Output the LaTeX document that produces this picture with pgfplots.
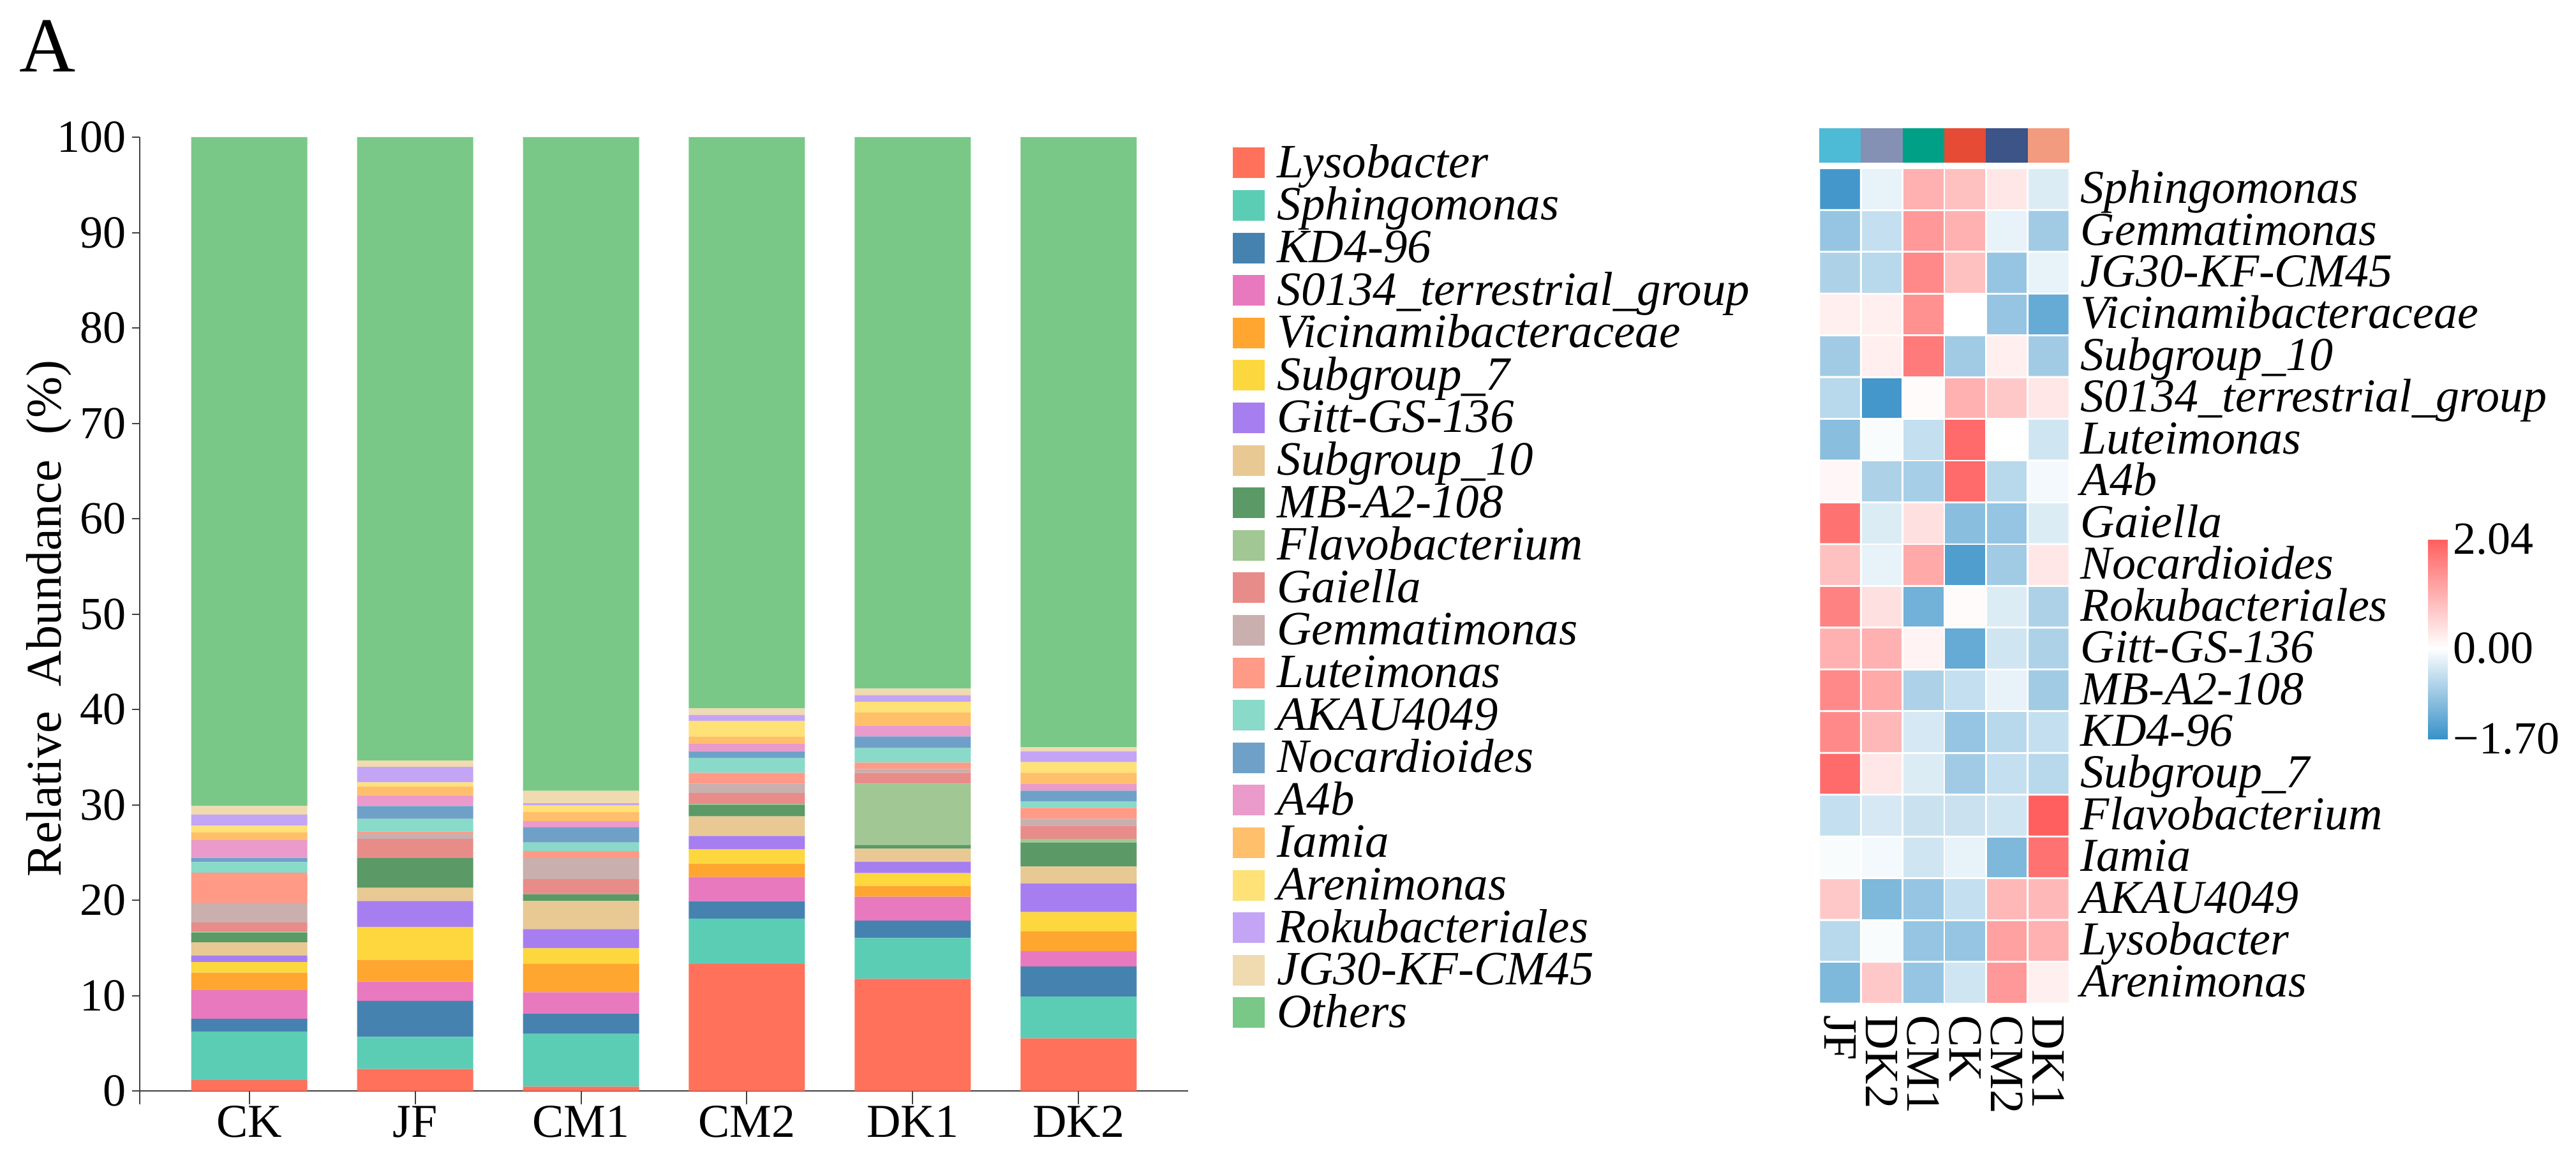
\documentclass[border=0pt]{standalone}
\usepackage{fontspec}
\setmainfont{Liberation Serif}
\usepackage{pgfplots}
\usepackage{pgfplotstable}
\pgfplotsset{compat=1.18}

% genus colours (bottom of the stack first)
\definecolor{cLys}{HTML}{FF715B}
\definecolor{cSph}{HTML}{5BCDB5}
\definecolor{cKD}{HTML}{4682B0}
\definecolor{cSterr}{HTML}{E879BE}
\definecolor{cVic}{HTML}{FFA630}
\definecolor{cSubVII}{HTML}{FDD73E}
\definecolor{cGitt}{HTML}{A77EF0}
\definecolor{cSubX}{HTML}{E8C993}
\definecolor{cMB}{HTML}{5B9966}
\definecolor{cFlavo}{HTML}{A1C794}
\definecolor{cGai}{HTML}{E88C8A}
\definecolor{cGem}{HTML}{C9AFAE}
\definecolor{cLut}{HTML}{FF9A86}
\definecolor{cAKAU}{HTML}{89DAC8}
\definecolor{cNoc}{HTML}{6FA1C8}
\definecolor{cAfb}{HTML}{EA9ACB}
\definecolor{cIam}{HTML}{FFBF6B}
\definecolor{cAre}{HTML}{FEE177}
\definecolor{cRok}{HTML}{C4A5F5}
\definecolor{cJG}{HTML}{F0DAB0}
\definecolor{cOth}{HTML}{79C887}
% group colours of the heatmap annotation
\definecolor{gJF}{HTML}{4DBBD5}
\definecolor{gDKb}{HTML}{8491B4}
\definecolor{gCMa}{HTML}{00A087}
\definecolor{gCK}{HTML}{E64B35}
\definecolor{gCMb}{HTML}{3C5488}
\definecolor{gDKa}{HTML}{F39B7F}

% relative abundance (%), groups CK JF CM1 CM2 DK1 DK2 at x = 0..5
\pgfplotstableread{
x Lys Sph KD Sterr Vic SubVII Gitt SubX MB Flavo Gai Gem Lut AKAU Noc Afb Iam Are Rok JG Oth
0 1.14 5.09 1.35 2.98 1.84 1.12 0.67 1.39 1.01 0.13 0.93 2.08 3.16 1.10 0.45 1.86 0.80 0.70 1.17 0.90 70.13
1 2.31 3.36 3.77 2.02 2.28 3.46 2.71 1.39 3.11 0.00 2.03 0.60 0.16 1.33 1.34 1.13 0.93 0.42 1.62 0.68 65.35
2 0.45 5.54 2.10 2.25 2.98 1.64 2.01 2.94 0.72 0.00 1.57 2.21 0.75 0.89 1.58 0.66 0.93 0.71 0.24 1.29 68.54
3 13.33 4.75 1.82 2.54 1.37 1.54 1.38 2.06 1.22 0.09 1.14 0.98 1.13 1.57 0.69 0.83 0.69 1.67 0.63 0.69 59.88
4 11.75 4.29 1.82 2.50 1.14 1.34 1.19 1.37 0.40 6.42 1.13 0.40 0.68 1.52 1.22 1.13 1.38 1.12 0.69 0.69 57.82
5 5.52 4.38 3.15 1.62 2.05 2.04 2.99 1.78 2.51 0.39 1.38 0.73 1.13 0.69 1.12 0.69 1.18 1.13 1.13 0.44 63.95
}\abund

% z-scores: x = JF DK2 CM1 CK CM2 DK1, y = row from the top
\pgfplotstableread{
x y c
0 0 -1.60
1 0 -0.20
2 0 1.00
3 0 0.80
4 0 0.30
5 0 -0.30
0 1 -0.90
1 1 -0.50
2 1 1.30
3 1 1.00
4 1 -0.20
5 1 -0.80
0 2 -0.70
1 2 -0.60
2 2 1.50
3 2 0.80
4 2 -0.90
5 2 -0.20
0 3 0.20
1 3 0.20
2 3 1.40
3 3 0.00
4 3 -0.90
5 3 -1.30
0 4 -0.80
1 4 0.20
2 4 1.70
3 4 -0.80
4 4 0.20
5 4 -0.80
0 5 -0.60
1 5 -1.60
2 5 0.05
3 5 1.00
4 5 0.70
5 5 0.30
0 6 -1.00
1 6 -0.05
2 6 -0.50
3 6 1.90
4 6 0.00
5 6 -0.40
0 7 0.10
1 7 -0.70
2 7 -0.75
3 7 1.90
4 7 -0.60
5 7 -0.10
0 8 1.80
1 8 -0.30
2 8 0.40
3 8 -1.00
4 8 -0.90
5 8 -0.30
0 9 0.80
1 9 -0.20
2 9 1.10
3 9 -1.50
4 9 -0.80
5 9 0.30
0 10 1.60
1 10 0.40
2 10 -1.20
3 10 0.05
4 10 -0.30
5 10 -0.70
0 11 1.00
1 11 1.00
2 11 0.15
3 11 -1.30
4 11 -0.40
5 11 -0.70
0 12 1.50
1 12 1.10
2 12 -0.70
3 12 -0.50
4 12 -0.20
5 12 -0.80
0 13 1.50
1 13 0.90
2 13 -0.35
3 13 -0.90
4 13 -0.60
5 13 -0.50
0 14 1.90
1 14 0.30
2 14 -0.30
3 14 -0.80
4 14 -0.50
5 14 -0.60
0 15 -0.50
1 15 -0.35
2 15 -0.45
3 15 -0.45
4 15 -0.40
5 15 2.04
0 16 -0.05
1 16 -0.10
2 16 -0.40
3 16 -0.20
4 16 -1.10
5 16 1.80
0 17 0.70
1 17 -1.10
2 17 -0.90
3 17 -0.50
4 17 0.90
5 17 0.90
0 18 -0.60
1 18 -0.05
2 18 -0.90
3 18 -0.90
4 18 1.20
5 18 1.00
0 19 -1.10
1 19 0.70
2 19 -0.90
3 19 -0.40
4 19 1.30
5 19 0.20
}\zscore

\newcommand{\fs}[1]{\fontsize{#1}{#1}\selectfont}

\begin{document}
\begin{tikzpicture}
\useasboundingbox (0,0) rectangle (1009.25pt,455.5pt);

\node[anchor=base west, inner sep=0pt, font=\fs{30.5pt}] at (7.5pt,427.25pt) {A};

% ---- stacked bars ----
\begin{axis}[
    at={(54.75pt,22.75pt)}, anchor=south west,
    scale only axis, width=410.75pt, height=379pt,
    ybar stacked, bar width=0.7,
    xmin=-0.66, xmax=5.66, ymin=-1.4, ymax=100,
    axis x line=middle, axis y line=left,
    axis line style={-, black!75, line width=0.7pt},
    hide obscured x ticks=false, hide obscured y ticks=false,
    xtick={0,...,5}, xticklabels={CK,JF,CM1,CM2,DK1,DK2},
    ytick={0,10,...,100},
    tick align=outside, tick style={black!75, line width=0.5pt},
    x tick style={/pgfplots/major tick length=5.25pt},
    y tick style={/pgfplots/major tick length=3pt},
    /pgf/number format/assume math mode=true,
    xticklabel style={font=\fs{18.5pt}, inner sep=0pt, yshift=-1.5pt},
    yticklabel style={font=\fs{18pt}, inner sep=1pt},
    ylabel={Relative\ \ Abundance\ \ (\%)},
    every axis y label/.style={at={(axis description cs:-0.0864,0.502)}, rotate=90, anchor=center, font=\fs{19.5pt}},
    legend cell align=left,
    legend image code/.code={\fill[#1] (0pt,-6.3pt) rectangle (12.5pt,5.7pt);},
    legend style={at={(axis description cs:1.042,0.9967)}, anchor=north west,
        draw=none, fill=none, inner sep=0pt, row sep=0pt,
        font=\itshape\fs{18.75pt},
        nodes={inner sep=0pt, text height=14.35pt, text depth=2.3pt},
        /tikz/every odd column/.append style={column sep=5pt}},
    every axis plot/.append style={draw=none},
]
\addplot[fill=cLys] table[x=x,y=Lys]{\abund};
\addplot[fill=cSph] table[x=x,y=Sph]{\abund};
\addplot[fill=cKD] table[x=x,y=KD]{\abund};
\addplot[fill=cSterr] table[x=x,y=Sterr]{\abund};
\addplot[fill=cVic] table[x=x,y=Vic]{\abund};
\addplot[fill=cSubVII] table[x=x,y=SubVII]{\abund};
\addplot[fill=cGitt] table[x=x,y=Gitt]{\abund};
\addplot[fill=cSubX] table[x=x,y=SubX]{\abund};
\addplot[fill=cMB] table[x=x,y=MB]{\abund};
\addplot[fill=cFlavo] table[x=x,y=Flavo]{\abund};
\addplot[fill=cGai] table[x=x,y=Gai]{\abund};
\addplot[fill=cGem] table[x=x,y=Gem]{\abund};
\addplot[fill=cLut] table[x=x,y=Lut]{\abund};
\addplot[fill=cAKAU] table[x=x,y=AKAU]{\abund};
\addplot[fill=cNoc] table[x=x,y=Noc]{\abund};
\addplot[fill=cAfb] table[x=x,y=Afb]{\abund};
\addplot[fill=cIam] table[x=x,y=Iam]{\abund};
\addplot[fill=cAre] table[x=x,y=Are]{\abund};
\addplot[fill=cRok] table[x=x,y=Rok]{\abund};
\addplot[fill=cJG] table[x=x,y=JG]{\abund};
\addplot[fill=cOth] table[x=x,y=Oth]{\abund};
\legend{Lysobacter, Sphingomonas, KD4-96, S0134\_terrestrial\_group, Vicinamibacteraceae, Subgroup\_7, Gitt-GS-136, Subgroup\_10, MB-A2-108, Flavobacterium, Gaiella, Gemmatimonas, Luteimonas, AKAU4049, Nocardioides, A4b, Iamia, Arenimonas, Rokubacteriales, JG30-KF-CM45, Others}
\end{axis}

% ---- group annotation above the heatmap ----
\begin{axis}[
    at={(712.75pt,391.75pt)}, anchor=south west,
    scale only axis, width=98pt, height=13.6pt,
    xmin=-0.5, xmax=5.5, ymin=0, ymax=1,
    hide axis, ybar, bar width=1, bar shift=0pt,
    every axis plot/.append style={draw=none},
]
\addplot[fill=gJF] coordinates {(0,1)};
\addplot[fill=gDKb] coordinates {(1,1)};
\addplot[fill=gCMa] coordinates {(2,1)};
\addplot[fill=gCK] coordinates {(3,1)};
\addplot[fill=gCMb] coordinates {(4,1)};
\addplot[fill=gDKa] coordinates {(5,1)};
\end{axis}

% ---- heatmap ----
\begin{axis}[
    at={(712.75pt,62.25pt)}, anchor=south west,
    scale only axis, width=98pt, height=327.3pt,
    xmin=-0.5, xmax=5.5, ymin=-0.5, ymax=19.5, y dir=reverse,
    axis line style={draw=none}, major tick length=0pt,
    xtick={0,...,5}, xticklabels={JF,DK2,CM1,CK,CM2,DK1},
    xticklabel style={rotate=-90, anchor=west, inner sep=4.5pt, font=\fs{18.75pt}},
    ytick={0,...,19}, yticklabel pos=right,
    yticklabels={Sphingomonas, Gemmatimonas, JG30-KF-CM45, Vicinamibacteraceae, Subgroup\_10, S0134\_terrestrial\_group, Luteimonas, A4b, Gaiella, Nocardioides, Rokubacteriales, Gitt-GS-136, MB-A2-108, KD4-96, Subgroup\_7, Flavobacterium, Iamia, AKAU4049, Lysobacter, Arenimonas},
    yticklabel style={anchor=base west, inner sep=0pt, xshift=4.25pt, yshift=-5.5pt, font=\itshape\fs{18.5pt}},
    colormap={zmap}{rgb255(0cm)=(55,145,200); rgb255(1.70cm)=(255,255,255); rgb255(3.74cm)=(255,95,95)},
    point meta min=-1.70, point meta max=2.04,
    colorbar,
    colorbar style={
        at={(parent axis.north east)}, anchor=north west,
        xshift=132pt, yshift=-145.35pt,
        scale only axis, width=7.75pt, height=78.25pt,
        axis line style={draw=none}, major tick length=0pt,
        ytick={-1.70,0,2.04}, yticklabels={−1.70,0.00,2.04},
        yticklabel style={font=\fs{18pt}, inner sep=2pt},
    },
]
\addplot[matrix plot*, shader=faceted, faceted color=white, line width=0.7pt,
    mesh/cols=6, point meta=explicit] table[x=x, y=y, meta=c]{\zscore};
\end{axis}
\end{tikzpicture}
\end{document}
